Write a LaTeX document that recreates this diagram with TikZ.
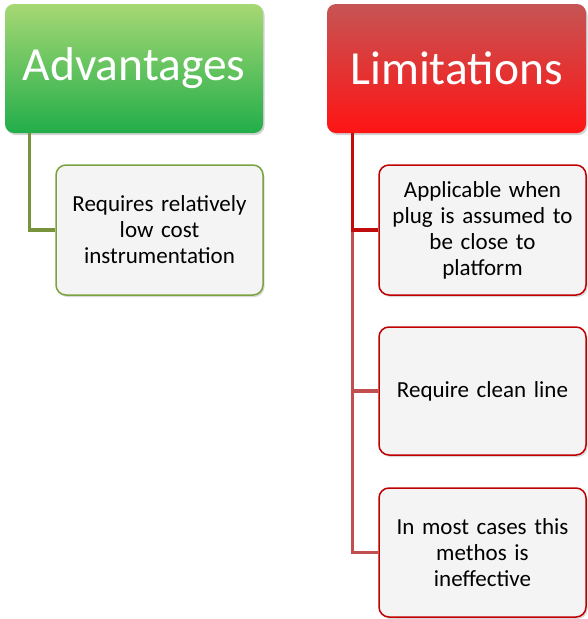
\documentclass[tikz,border=0pt]{standalone}
\usepackage{fontspec}
\setmainfont{Carlito}
\usetikzlibrary{shadows}
\definecolor{gtop}{HTML}{A6D874}
\definecolor{gbot}{HTML}{22AE4A}
\definecolor{rtop}{HTML}{C65454}
\definecolor{rbot}{HTML}{FF1414}
\definecolor{gline}{HTML}{77933C}
\definecolor{gborder}{HTML}{7AA33E}
\definecolor{rline}{HTML}{C0504D}
\definecolor{rborder}{HTML}{C00000}
\definecolor{boxfill}{HTML}{F4F4F4}
\begin{document}
\begin{tikzpicture}[x=1pt,y=-1pt,
  head/.style={rounded corners=9pt, minimum height=129pt, inner sep=0pt,
    font=\fontsize{47.5}{56}\selectfont, text=white,
    drop shadow={opacity=0.35, shadow xshift=1.5pt, shadow yshift=-2pt}},
  leaf/.style={rounded corners=10pt, minimum width=207pt, inner sep=0pt,
    text width=200pt, align=center, fill=boxfill, line width=1.5pt,
    font=\fontsize{23}{26}\selectfont, text=black,
    drop shadow={opacity=0.3, shadow xshift=1.5pt, shadow yshift=-2pt}},
  gconn/.style={draw=gline, line width=3.2pt},
  rconn/.style={draw=rline, line width=3.2pt}]
\useasboundingbox (0,0) rectangle (587,619);

\node[head, minimum width=258pt, top color=gtop, bottom color=gbot] (adv) at (134,68.5) {Advantages};
\node[head, minimum width=259pt, top color=rtop, bottom color=rbot] (lim) at (456.5,68.5) {Limitations};

\node[leaf, draw=gborder, minimum height=130pt] (a1) at (159.5,230) {Requires relatively\\low cost\\instrumentation};

\node[leaf, draw=rborder, minimum height=130pt] (l1) at (482.5,230) {Applicable when\\plug is assumed to\\be close to\\platform};
\node[leaf, draw=rborder, minimum height=128pt] (l2) at (482.5,391) {Require clean line};
\node[leaf, draw=rborder, minimum height=129pt] (l3) at (482.5,552.5) {In most cases this\\methos is\\ineffective};

\coordinate (gs) at ([xshift=25pt]adv.south west);
\coordinate (rs) at ([xshift=26pt]lim.south west);

\draw[gconn] (gs) |- (a1.west);
\draw[rconn] (rs) |- (l3.west);
\draw[rconn] (rs) |- (l2.west);
\draw[rconn, draw=rborder!85!rline] (rs) |- (l1.west);
\end{tikzpicture}
\end{document}
